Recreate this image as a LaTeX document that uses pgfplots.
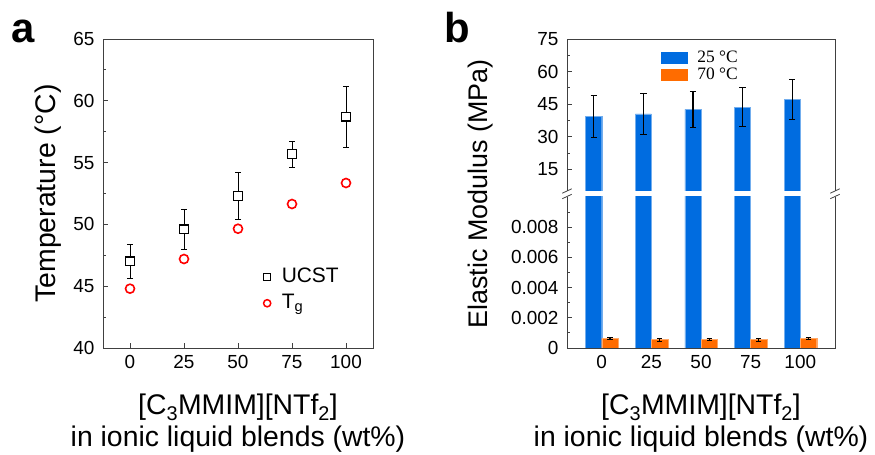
\documentclass[border=0pt]{standalone}
\usepackage{pgfplots}
\usepackage{pgfplotstable}
\pgfplotsset{compat=1.18}
\usepackage{fontspec}
\setmainfont{Liberation Sans}
\newfontfamily\seriffont{Liberation Serif}
\definecolor{barblue}{RGB}{0,108,224}
\definecolor{barorange}{RGB}{255,108,0}
\definecolor{axgray}{RGB}{64,64,64}

\pgfplotstableread{
x ucst eu tg
0 47.0 1.4 44.8
25 49.6 1.6 47.2
50 52.3 1.9 49.65
75 55.7 1.05 51.65
100 58.7 2.45 53.35
}\tempdata

\pgfplotstableread{
x e25 e25err e70 e70err
0 39.3 9.6 0.00064 0.00007
25 40.5 9.4 0.00055 0.00010
50 42.6 8.2 0.00055 0.00006
75 43.6 9.0 0.00055 0.00010
100 47.1 9.1 0.00064 0.00007
}\moddata

\begin{document}
\begin{tikzpicture}
\useasboundingbox (0bp,0bp) rectangle (875bp,455bp);
\pgfplotsset{
  myaxis/.style={
    scale only axis,
    axis line style={axgray, line width=0.9bp},
    tick style={axgray, line width=0.8bp},
    major tick length=5bp, minor tick length=3bp,
    tick align=inside,
    /pgf/number format/assume math mode=true,
    ticklabel style={font=\fontsize{19}{19}\selectfont},
    xticklabel style={yshift=-3.5bp},
    yticklabel style={xshift=-5bp},
    label style={font=\fontsize{28.5}{32}\selectfont},
    tick pos=left,
  }
}
% ---------------- panel a ----------------
\begin{axis}[myaxis, at={(103bp,107bp)}, anchor=south west, width=270bp, height=309bp,
  xmin=-12.5, xmax=112.5, ymin=40, ymax=65,
  xtick={0,25,50,75,100}, ytick={40,45,50,55,60,65}, minor y tick num=1,
  ylabel={Temperature (°C)},
  ylabel style={at={(axis description cs:-0.204,0.5)}, anchor=center},
  xlabel={[C\textsubscript{3}MMIM][NTf\textsubscript{2}]\\in ionic liquid blends (wt\%)},
  xlabel style={at={(axis description cs:0.5,0)}, anchor=north, yshift=-46bp, align=center, inner sep=0pt},
  legend image code/.code={\draw[#1] plot coordinates {(0bp,0bp)};},
  legend style={at={(axis description cs:0.594,0.262)}, anchor=north west, draw=none, fill=none,
    inner sep=0pt, row sep=6bp, font=\fontsize{21}{21}\selectfont,
    nodes={inner sep=0pt, text height=15bp, text depth=5bp},
    /tikz/every odd column/.style={column sep=11bp}},
  legend cell align=left,
]
\addplot[forget plot, only marks, mark=square*, mark size=4.3bp, mark options={fill=white, draw=black, line width=1.4bp},
  error bars/.cd, y dir=both, y explicit,
  error bar style={line width=0.6bp, black},
  error mark options={rotate=90, mark size=3bp, line width=0.6bp, black}]
  table[x=x, y=ucst, y error=eu] {\tempdata};
\addplot[forget plot, only marks, mark=o, mark size=4.5bp, mark options={draw=red, line width=1.6bp}]
  table[x=x, y=tg] {\tempdata};
\addlegendimage{only marks, mark=square*, mark size=3.4bp, mark options={fill=white, draw=black, line width=1.3bp}}
\addlegendentry{UCST}
\addlegendimage{only marks, mark=o, mark size=3.6bp, mark options={draw=red, line width=1.5bp}}
\addlegendentry{T\textsubscript{g}}
\end{axis}
\node[anchor=base west, inner sep=0pt, font=\bfseries\fontsize{42}{42}\selectfont] at (11bp,412bp) {a};

% ---------------- panel b upper ----------------
\begin{axis}[myaxis, name=bup, at={(567bp,264bp)}, anchor=south west, width=268bp, height=152bp,
  axis line style={draw=none},
  xmin=-17.5, xmax=117.5, ymin=5, ymax=75,
  xtick=\empty, ytick={15,30,45,60,75}, minor y tick num=1,
  legend style={at={(axis description cs:0.351,0.935)}, anchor=north west, draw=none, fill=none,
    inner sep=0pt, row sep=0pt, font=\seriffont\fontsize{17.5}{17.5}\selectfont,
    nodes={inner sep=0pt, text height=13bp, text depth=4bp},
    /tikz/every odd column/.style={column sep=10bp}},
  legend cell align=left,
]
\addplot[forget plot, ybar, bar width=8.1, bar shift=0, fill=barblue, draw=barblue!55!white, line width=0.4bp,
  error bars/.cd, y dir=both, y explicit,
  error bar style={line width=1.3bp, black},
  error mark options={rotate=90, mark size=3.2bp, line width=1.3bp, black}]
  table[x expr=\thisrow{x}-4.05, y=e25, y error=e25err] {\moddata};
\addlegendimage{legend image code/.code={\fill[barblue] (0bp,-5.8bp) rectangle (25.7bp,5.8bp);}}
\addlegendentry{25 °C}
\addlegendimage{legend image code/.code={\fill[barorange] (0bp,-5.8bp) rectangle (25.7bp,5.8bp);}}
\addlegendentry{70 °C}
\end{axis}

% ---------------- panel b lower ----------------
\begin{axis}[myaxis, name=blow, at={(567bp,107bp)}, anchor=south west, width=268bp, height=151bp,
  axis line style={draw=none},
  xmin=-17.5, xmax=117.5, ymin=0, ymax=0.01,
  xtick={0,25,50,75,100}, major x tick style={draw=none},
  ytick={0,0.002,0.004,0.006,0.008}, minor ytick={0.001,0.003,0.005,0.007,0.009},
  scaled y ticks=false,
  yticklabel style={/pgf/number format/.cd, fixed, precision=3},
  ylabel={Elastic Modulus (MPa)},
  ylabel style={at={(axis description cs:-0.321,1.02)}, anchor=center, font=\fontsize{27}{30}\selectfont},
  xlabel={[C\textsubscript{3}MMIM][NTf\textsubscript{2}]\\in ionic liquid blends (wt\%)},
  xlabel style={at={(axis description cs:0.5,0)}, anchor=north, yshift=-46bp, align=center, inner sep=0pt},
]
\addplot[ybar, bar width=8.1, bar shift=0, fill=barblue, draw=barblue!55!white, line width=0.4bp,
  restrict y to domain*=0:0.0105]
  table[x expr=\thisrow{x}-4.05, y=e25] {\moddata};
\addplot[ybar, bar width=8.3, bar shift=0, fill=barorange, draw=barorange!60!white, line width=0.4bp,
  error bars/.cd, y dir=both, y explicit,
  error bar style={line width=1.2bp, black},
  error mark options={rotate=90, mark size=2.6bp, line width=1.2bp, black}]
  table[x expr=\thisrow{x}+4.15, y=e70, y error=e70err] {\moddata};
\end{axis}
\node[anchor=base west, inner sep=0pt, font=\bfseries\fontsize{42}{42}\selectfont] at (444bp,412bp) {b};

% frame of panel b and axis-break marks
\draw[axgray, line width=0.9bp] (bup.south west) -- (bup.north west) -- (bup.north east) -- (bup.south east);
\draw[axgray, line width=0.9bp] (blow.north west) -- (blow.south west) -- (blow.south east) -- (blow.north east);
\foreach \xx in {567,835}{
  \draw[axgray, line width=0.8bp] (\xx bp-4.7bp,264bp-2.2bp) -- (\xx bp+4.7bp,264bp+2.2bp);
  \draw[axgray, line width=0.8bp] (\xx bp-4.7bp,258.5bp-2.2bp) -- (\xx bp+4.7bp,258.5bp+2.2bp);
}
\end{tikzpicture}
\end{document}
